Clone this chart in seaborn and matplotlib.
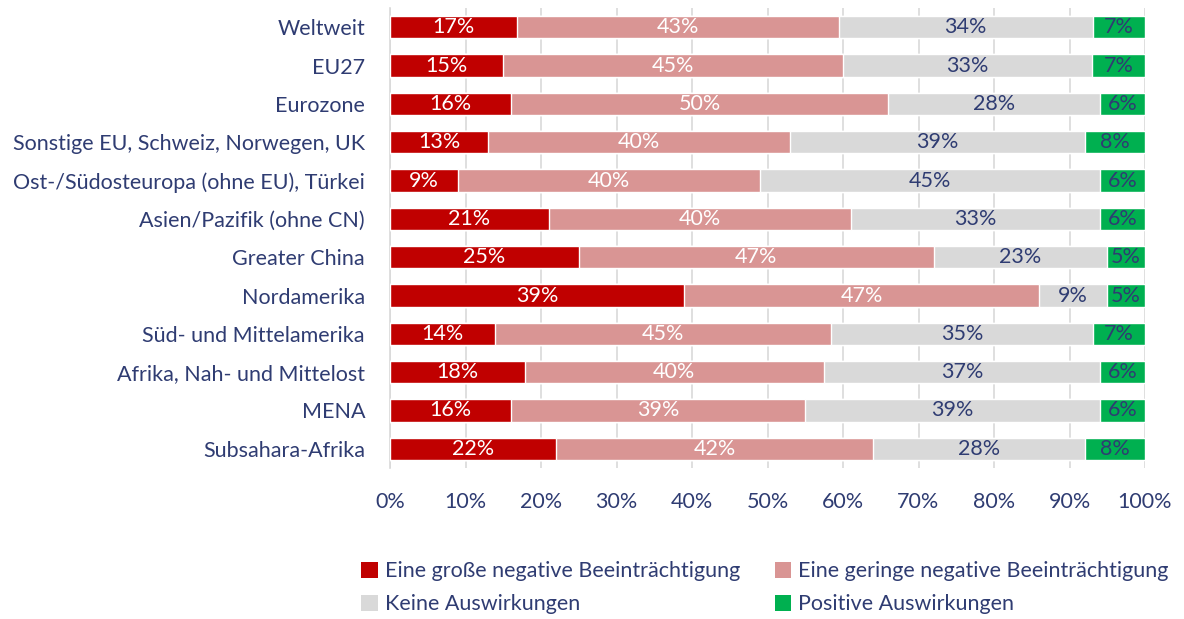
import matplotlib
matplotlib.use("Agg")
import matplotlib.pyplot as plt
import seaborn as sns
import numpy as np
import pandas as pd
from matplotlib.patches import Patch

categories = ["Weltweit", "EU27", "Eurozone", "Sonstige EU, Schweiz, Norwegen, UK",
              "Ost-/Südosteuropa (ohne EU), Türkei", "Asien/Pazifik (ohne CN)", "Greater China",
              "Nordamerika", "Süd- und Mittelamerika", "Afrika, Nah- und Mittelost", "MENA",
              "Subsahara-Afrika"]
gross_negativ = [17, 15, 16, 13, 9, 21, 25, 39, 14, 18, 16, 22]
gering_negativ = [43, 45, 50, 40, 40, 40, 47, 47, 45, 40, 39, 42]
keine = [34, 33, 28, 39, 45, 33, 23, 9, 35, 37, 39, 28]
positiv = [7, 7, 6, 8, 6, 6, 5, 5, 7, 6, 6, 8]
series_names = ["Eine große negative Beeinträchtigung", "Eine geringe negative Beeinträchtigung",
                "Keine Auswirkungen", "Positive Auswirkungen"]
colors = ["#C00000", "#D99594", "#D9D9D9", "#00B050"]
label_colors = ["white", "white", "#2F3C72", "#2F3C72"]
navy = "#2F3C72"

sns.set_theme(style="white")
plt.rcParams["font.family"] = ["Lato", "DejaVu Sans"]

FS = 15.5
vals = np.array([gross_negativ, gering_negativ, keine, positiv], dtype=float)
share = vals / vals.sum(axis=0) * 100
cum = np.cumsum(share, axis=0)

fig = plt.figure(figsize=(11.84, 6.19), dpi=100)
ax = fig.add_axes([390/1184, 1 - 468/619, (1145-390)/1184, 460/619])

for i in range(3, -1, -1):
    df = pd.DataFrame({"cat": categories, "v": cum[i]})
    sns.barplot(data=df, x="v", y="cat", orient="h", color=colors[i], saturation=1,
                width=0.58, ax=ax, zorder=3)

for i in range(4):
    for j, c in enumerate(categories):
        left = cum[i][j] - share[i][j]
        ax.text(left + share[i][j] / 2, j, f"{int(vals[i][j])}%", ha="center", va="center",
                color=label_colors[i], fontsize=FS, zorder=5)

ax.set_xlim(0, 100)
ax.set_ylim(11.5, -0.5)
ax.set_xticks(np.arange(0, 101, 10))
ax.set_xticklabels([f"{t}%" for t in range(0, 101, 10)])
ax.xaxis.grid(True, color="#D9D9D9", linewidth=1.2, zorder=0)
ax.set_axisbelow(True)
ax.set_xlabel("")
ax.set_ylabel("")
for s in ["top", "right", "bottom"]:
    ax.spines[s].set_visible(False)
ax.spines["left"].set_color("#D9D9D9")
ax.spines["left"].set_linewidth(1.2)
ax.tick_params(axis="both", length=0, labelsize=FS, labelcolor=navy)
ax.tick_params(axis="x", pad=17)
ax.tick_params(axis="y", pad=18)

order = [0, 2, 1, 3]
handles = [Patch(facecolor=colors[k], edgecolor="none") for k in order]
labels = [series_names[k] for k in order]
leg = fig.legend(handles, labels, loc="upper left", bbox_to_anchor=(342/1184, 1 - 542/619),
                 ncol=2, frameon=False, handlelength=0.75, handleheight=0.75,
                 handletextpad=0.35, columnspacing=1.6, labelspacing=0.6, labelcolor=navy,
                 prop={"size": FS})

fig.savefig("out.png", dpi=100)
